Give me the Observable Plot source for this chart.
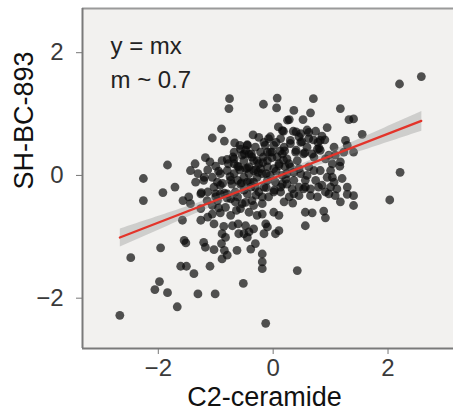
<!DOCTYPE html>
<html><head><meta charset="utf-8">
<script src="https://cdn.jsdelivr.net/npm/d3@7"></script>
<script src="https://cdn.jsdelivr.net/npm/@observablehq/plot@0.6"></script>
<style>html,body{margin:0;padding:0;background:#fff;} #chart svg{display:block;}</style>
</head><body><div id="chart"></div>
<script>
// C2-ceramide (x) values per sample
const c2Ceramide = [
 -2.67,-2.48,-2.26,-2.26,-1.84,-1.92,-1.71,-1.96,-1.98,-2.06,-1.84,-1.67,-1.61,-1.51,-1.38,-1.31,-1.01,-1.10,-0.52,-0.13,0.42,2.03,2.21,2.20,2.58,1.55,1.40,1.32,1.17,0.70,0.07,0.06,-0.17,-0.76,-0.77,-0.90,-1.06,
 -0.85,-0.67,-1.36,-1.18,-1.10,-1.44,-1.31,-1.14,-0.89,-0.80,-0.68,-1.35,-1.21,-1.06,
 0.36,0.65,0.28,0.52,0.94,0.09,0.16,0.35,0.59,0.74,0.13,-0.08,-0.16,0.48,0.78,0.59,0.82,-0.45,-0.48,-0.31,0.01,0.19,-0.22,0.39,0.53,0.71,-0.51,-0.34,-0.10,0.07,0.24,0.42,0.91,-0.42,-0.22,0.01,0.21,0.45,0.62,0.82,-0.51,-0.28,-0.10,0.16,0.36,0.56,0.74,0.94,-0.39,0.13,0.53,
 1.26,1.29,1.06,1.40,1.23,1.08,1.17,1.03,1.16,1.03,1.20,1.06,
 1.40,1.40,1.17,1.08,0.97,0.91,0.77,0.56,0.68,0.88,0.91,0.56,0.34,0.45,0.33,0.56,0.65,0.13,0.01,0.16,-0.19,-0.19,0.01,0.10,-0.10,-0.16,0.04,0.10,-0.19,-0.19,-0.19,
 -0.28,-0.13,-0.42,-0.45,-0.31,-0.39,-0.48,-0.51,-0.54,-0.45,-0.19,0.36,0.65,
 -1.55,-1.52,-1.21,-1.18,-1.03,-0.89,-0.80,-0.85,-0.90,-0.83,-0.89,-1.03,-0.86,-0.71,-0.61,-1.06,-0.92,-1.06,-1.00,-0.92,-0.80,-1.44,-1.47,-1.58,-0.66,-0.64,-0.60,-0.63,
 -0.92,-0.34,
 -0.57,-0.42,-0.68,-0.60,-0.68,-0.74,-0.57,-0.66,-0.74,-0.42,-0.34,-0.25,-0.37,-0.57,-0.42,-0.34,-0.68,-0.80,-0.92,-0.97,-1.03,-1.14,-1.26,-0.97,-0.83,-0.74,-0.02,-0.10,0.10,-0.05,0.04,-0.16,-0.08,0.19,0.28,0.24,0.30,0.48,0.71,0.79,0.85,1.00,1.11,1.29,1.29,-1.57,-1.26,-1.14,-1.26,
 -0.54,-0.37,-0.17,-0.25,-0.48,-0.34,-0.19,-0.45,-0.31,-0.51,-0.62,-0.10,0.16,0.30,0.45,0.62,0.77,0.48,0.82,0.97,0.36,0.59,0.24,0.45,1.00,
 -0.95,-0.78,-0.62,-0.50,-0.38,-0.28,-0.14,-0.05,0.05,0.12,
 -0.88,-0.75,-0.58,-0.45,-0.30,-0.18,-0.02,0.10,0.20,0.30,
 -1.00,-0.85,-0.72,-0.55,-0.40,-0.26,-0.12,0.05,0.18,0.28,
 -1.25,-1.15,-0.95,-0.80,-0.62,-0.48,-0.30,-0.12,0.02,0.22,
 0.40,0.50,0.62,0.70,0.85,0.40,0.55,0.68,0.80,0.90,
 -0.70,-0.58,-0.45,-0.25,-0.05,0.18,-1.20,-1.00,-0.35,0.25
];
// SH-BC-893 (y) values per sample
const shBc893 = [
 -2.28,-1.34,-0.05,-0.41,0.17,-0.28,-0.19,-1.18,-1.73,-1.86,-1.91,-2.14,-1.48,-1.48,-1.60,-1.93,-1.93,-1.48,-1.76,-2.41,-1.55,-0.40,0.05,1.49,1.61,0.67,0.92,0.91,1.09,1.25,1.26,1.10,1.16,1.25,1.09,0.76,0.61,
 0.56,0.53,0.19,0.29,0.22,0.08,0.03,0.09,0.24,0.26,0.27,-0.11,-0.08,-0.03,
 1.06,1.02,0.91,0.91,0.78,0.79,0.73,0.72,0.74,0.72,0.60,0.60,0.54,0.54,0.54,0.46,0.41,0.49,0.41,0.46,0.49,0.46,0.38,0.38,0.35,0.30,0.24,0.24,0.24,0.30,0.27,0.24,0.27,0.14,0.11,0.11,0.14,0.11,0.14,0.08,-0.03,-0.03,-0.08,0.00,-0.08,-0.08,-0.08,-0.03,-0.19,-0.19,-0.22,
 0.57,0.49,0.46,0.38,0.38,0.33,0.22,0.19,0.15,-0.03,-0.05,-0.11,
 -0.33,-0.49,-0.43,-0.33,-0.30,-0.27,-0.35,-0.60,-0.61,-0.58,-0.69,-0.82,-0.45,-0.33,-0.22,-0.19,-0.22,-0.27,-0.27,-0.14,-0.46,-0.63,-0.60,-0.65,-0.84,-0.95,-0.95,-0.90,-1.28,-1.41,-1.52,
 -0.65,-0.79,-0.92,-1.01,-1.11,-1.20,-0.82,-0.95,-0.46,-0.30,-0.35,-0.30,-0.33,
 -1.06,-1.10,-1.09,-1.17,-1.21,-1.36,-1.30,-1.22,-1.11,-1.01,-0.95,-0.79,-0.83,-0.82,-0.79,-0.63,-0.61,-0.49,-0.35,-0.30,-0.30,-0.46,-0.35,-0.73,-0.43,-0.57,-0.95,-1.22,
 -0.16,-0.87,
 0.43,0.35,0.38,0.14,0.03,-0.08,-0.14,-0.27,-0.38,0.03,-0.11,-0.27,-0.41,-0.54,-0.60,-0.49,0.19,0.08,0.03,-0.11,-0.19,-0.27,-0.30,-0.41,-0.52,-0.65,0.38,0.14,0.16,0.00,-0.11,-0.19,-0.35,-0.43,-0.35,0.03,0.14,0.03,0.08,-0.19,-0.16,-0.19,-0.22,-0.19,-0.31,-0.41,-0.54,-0.68,-0.73,
 0.33,0.30,0.30,0.19,0.11,0.08,0.03,-0.11,-0.19,-0.24,-0.08,0.38,0.35,0.52,0.63,0.60,0.43,0.68,0.57,0.33,0.05,0.00,-0.14,-0.19,0.08,
 0.07,0.19,0.15,0.35,0.35,0.24,0.49,0.38,0.54,0.40,
 -0.13,-0.02,0.09,0.12,0.10,0.21,0.29,0.19,0.40,0.57,
 -0.30,-0.29,-0.14,-0.12,-0.11,0.05,0.03,0.07,0.25,0.19,
 -0.28,-0.41,-0.53,-0.37,-0.35,-0.44,-0.32,-0.20,-0.24,-0.06,
 0.71,0.55,0.70,0.58,0.64,0.41,0.37,0.35,0.44,0.58,
 0.30,0.49,0.50,0.62,0.63,0.72,-0.03,0.15,0.66,0.90
];
const xTicks = [-2, 0, 2];
const yTicks = [-2, 0, 2];
const xDomain = [-3.32, 3.14];
const yDomain = [-2.82, 2.72];
const xTitle = "C2-ceramide";
const yTitle = "SH-BC-893";
const annotation = ["y = mx", "m ~ 0.7"];

const data = c2Ceramide.map((x, i) => ({x, y: shBc893[i]}));
const fmt = d => d < 0 ? "\u2212" + Math.abs(d) : String(d);
const font = "'Liberation Sans', Arial, Helvetica, sans-serif";

const plot = Plot.plot({
  width: 453, height: 410,
  marginLeft: 82, marginTop: 8, marginRight: 0, marginBottom: 62,
  style: {fontFamily: font, background: "#ffffff", overflow: "visible"},
  x: {domain: xDomain},
  y: {domain: yDomain},
  marks: [
    Plot.frame({fill: "#f2f1ef", stroke: "none"}),
    Plot.ruleY([yDomain[1]], {stroke: "#9a9a9a", strokeWidth: 2}),
    Plot.ruleY([yDomain[0]], {stroke: "#7a7a7a", strokeWidth: 2}),
    Plot.ruleX([xDomain[0]], {stroke: "#7a7a7a", strokeWidth: 2}),
    Plot.axisX({ticks: xTicks, tickFormat: fmt, tickSize: 6, tickPadding: 4, fontSize: 24, stroke: "#777", fill: "#3a3a3a", label: null}),
    Plot.axisY({ticks: yTicks, tickFormat: fmt, tickSize: 6, tickPadding: 13, fontSize: 24, stroke: "#777", fill: "#3a3a3a", label: null}),
    Plot.dot(data, {x: "x", y: "y", r: 4.4, fill: "#0a0a0a", fillOpacity: 0.7, stroke: "none"}),
    Plot.linearRegressionY(data, {x: "x", y: "y", ci: 0.85, stroke: "#e3342a", strokeWidth: 2.2, fill: "#8c8c8c", fillOpacity: 0.35}),
    Plot.text([annotation.join("\n")], {text: d => d, frameAnchor: "top-left", dx: 28, dy: 20.7, lineAnchor: "top", textAnchor: "start", fontSize: 24, lineHeight: 1.43, fill: "#222"}),
    Plot.text([xTitle], {text: d => d, frameAnchor: "bottom", dx: -3.5, dy: 57, lineAnchor: "bottom", fontSize: 27, fill: "#111"}),
    Plot.text([yTitle], {text: d => d, frameAnchor: "left", rotate: -90, dx: -58, dy: 11, fontSize: 27, fill: "#111"})
  ]
});
document.getElementById("chart").appendChild(plot);
</script>
</body></html>
